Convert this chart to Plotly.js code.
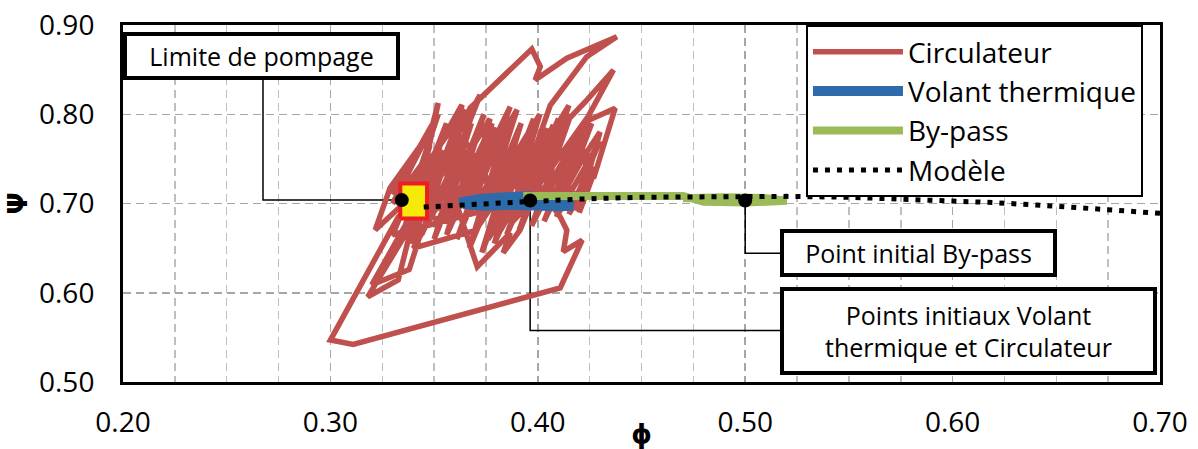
<!DOCTYPE html>
<html><head><meta charset="utf-8">
<script src="https://cdn.plot.ly/plotly-3.0.1.min.js"></script>
<style>html,body{margin:0;padding:0;background:#fff;} #chart{width:1198px;height:449px;}</style>
</head><body><div id="chart"></div>
<script>
// ---- data ----
const circX = [0.3963,0.4075,0.3880,0.4060,0.4236,0.4381,0.4140,0.3987,0.4012,0.3971,0.3674,0.3500,0.3722,0.3600,0.3634,0.3450,0.3520,0.3480,0.3490,0.3300,0.3447,0.3288,0.3216,0.3330,0.3560,0.3780,0.3650,0.3867,0.3740,0.3820,0.3960,0.3700,0.3400,0.3620,0.3440,0.3380,0.3200,0.3420,0.3327,0.3180,0.3400,0.3600,0.3708,0.3867,0.3833,0.3915,0.4000,0.4108,0.4140,0.4123,0.4214,0.4108,0.3110,0.3000,0.3327,0.3500,0.3650,0.3800,0.3980,0.3900,0.4130,0.4229,0.4365,0.4229,0.4373,0.4269,0.4200,0.4050,0.4205,0.4180,0.3950,
  0.3300,0.3480,0.3340,0.3560,0.3390,0.3620,0.3440,0.3680,0.3500,0.3740,0.3560,0.3800,0.3610,0.3860,0.3670,0.3920,0.3730,0.3980,0.3790,0.4040,0.3850,0.4100,0.3910,0.4160,0.3970,0.4210,0.4030,0.4260,0.4090,0.4300,0.4150,0.4280,0.4200,
  0.4240,0.4120,0.4180,0.4000,0.4140,0.3940,0.4080,0.3880,0.4020,0.3820,0.3960,0.3760,0.3900,0.3700,0.3840,0.3640,0.3780,0.3580,0.3720,0.3520,0.3660,0.3460,0.3600,0.3400,0.3540,0.3350,0.3460,0.3300,
  0.3520,0.3420,0.3650,0.3540,0.3770,0.3680,0.3900,0.3770,0.4010,0.3900,0.4150,0.4020,0.4250,0.4130,0.4300,0.4210];
const circY = [0.7033,0.7880,0.6900,0.8100,0.8645,0.8869,0.8627,0.8384,0.8533,0.8731,0.8070,0.7300,0.8216,0.7500,0.8104,0.7350,0.8127,0.7770,0.7880,0.7100,0.7690,0.7175,0.6704,0.6950,0.6800,0.7900,0.7050,0.8085,0.7300,0.6900,0.7600,0.6700,0.6500,0.7400,0.6700,0.6260,0.6090,0.7000,0.6144,0.5954,0.6800,0.7050,0.6290,0.6670,0.6447,0.6704,0.7200,0.6850,0.6700,0.6460,0.6590,0.6055,0.5420,0.5470,0.6850,0.7200,0.7700,0.7100,0.7900,0.7200,0.7900,0.8140,0.8496,0.7917,0.8067,0.7283,0.7600,0.7000,0.7130,0.6950,0.7050,
  0.6650,0.7650,0.6600,0.7900,0.6550,0.7950,0.6650,0.7900,0.6600,0.8000,0.6650,0.7850,0.6600,0.7950,0.6500,0.7900,0.6450,0.7950,0.6550,0.7850,0.6650,0.7950,0.6700,0.8000,0.6750,0.7850,0.6800,0.7900,0.6850,0.7700,0.6880,0.7400,0.6900,
  0.7600,0.7100,0.7700,0.7000,0.7500,0.6900,0.7300,0.6800,0.7500,0.6700,0.7300,0.6600,0.7400,0.6700,0.7500,0.6800,0.7600,0.6900,0.7500,0.6800,0.7600,0.6900,0.7700,0.6900,0.7600,0.6950,0.7500,0.7000,
  0.8000,0.7300,0.8050,0.7100,0.7950,0.7200,0.8050,0.7100,0.8000,0.7150,0.8100,0.7250,0.8000,0.7200,0.7800,0.7050];
const volantX = [0.3620,0.3720,0.3850,0.3950,0.4040,0.4120,0.4170,0.4100,0.3980,0.3860,0.3740,0.3640];
const volantY = [0.7010,0.7050,0.7070,0.7080,0.7060,0.7010,0.6975,0.6970,0.6990,0.6985,0.6975,0.6995];
const bypassX = [0.3930,0.4200,0.4500,0.4700,0.4800,0.5000,0.5200,0.5100,0.4900,0.4750,0.4700];
const bypassY = [0.7085,0.7090,0.7090,0.7085,0.7020,0.7010,0.7030,0.7060,0.7070,0.7070,0.7060];
const modelX = [0.345,0.360,0.380,0.400,0.420,0.450,0.480,0.500,0.520,0.550,0.580,0.600,0.620,0.650,0.680,0.700];
const modelY = [0.696,0.698,0.701,0.703,0.705,0.707,0.708,0.708,0.708,0.707,0.705,0.703,0.701,0.697,0.692,0.689];
const keyPointsX = [0.3344,0.3963,0.5000];
const keyPointsY = [0.7038,0.7033,0.7033];
const limitBoxX = [0.3337,0.3466];
const limitBoxY = [0.6832,0.7225];
const seriesNames = ['Circulateur','Volant thermique','By-pass','Modèle'];
const xTickVals = [0.20,0.30,0.40,0.50,0.60,0.70];
const xTickText = ['0.20','0.30','0.40','0.50','0.60','0.70'];
const yTickVals = [0.50,0.60,0.70,0.80,0.90];
const yTickText = ['0.50','0.60','0.70','0.80','0.90'];
const axisTitles = ['ϕ','Ψ'];
const noteTexts = ['Limite de pompage','Point initial By-pass','Points initiaux Volant<br>thermique et Circulateur'];
// leader lines (elbows) from key points to note boxes
const leader1X = [0.3344,0.2675,0.2675], leader1Y = [0.7038,0.7038,0.8400];
const leader2X = [0.5000,0.5000,0.5200], leader2Y = [0.7033,0.6443,0.6443];
const leader3X = [0.3963,0.3963,0.5200], leader3Y = [0.7033,0.5577,0.5577];
const notePosX = [0.2668,0.5837,0.6079];
const notePosY = [0.8653,0.6447,0.5573];

// ---- styles ----
const FONT = 'Open Sans, Lato, sans-serif';
const gridCol = '#A6A6A6';
const traces = [];
const lead = (x,y)=>({x:x,y:y,mode:'lines',line:{color:'#000',width:1.5},showlegend:false,hoverinfo:'skip'});
traces.push(lead(leader1X,leader1Y), lead(leader2X,leader2Y), lead(leader3X,leader3Y));
traces.push({x:circX,y:circY,mode:'lines',name:seriesNames[0],line:{color:'#C0504D',width:5.5}});
traces.push({x:volantX,y:volantY,mode:'lines',name:seriesNames[1],line:{color:'#2E6BAA',width:10}});
traces.push({x:bypassX,y:bypassY,mode:'lines',name:seriesNames[2],line:{color:'#9BBB59',width:8}});
traces.push({x:[limitBoxX[0],limitBoxX[1],limitBoxX[1],limitBoxX[0],limitBoxX[0]],
             y:[limitBoxY[0],limitBoxY[0],limitBoxY[1],limitBoxY[1],limitBoxY[0]],
             mode:'lines',fill:'toself',fillcolor:'#F5EA0A',line:{color:'#EE1C24',width:4},showlegend:false,hoverinfo:'skip'});
traces.push({x:modelX,y:modelY,mode:'lines',name:seriesNames[3],line:{color:'#000',width:5,dash:'5px,7px'}});
traces.push({x:keyPointsX,y:keyPointsY,mode:'markers',marker:{color:'#000',size:14},showlegend:false,hoverinfo:'skip'});

const note = (i)=>({x:notePosX[i],y:notePosY[i],xref:'x',yref:'y',text:noteTexts[i],showarrow:false,
  font:{family:FONT,size:25,color:'#000'},bordercolor:'#000',borderwidth:4,borderpad:1,bgcolor:'#fff',
  width: i===2?367:267, height: i===2?78:38, align:'center', valign:'middle'});

const layout = {
  width:1198,height:449,margin:{l:123,r:38,t:25,b:67},
  paper_bgcolor:'#fff',plot_bgcolor:'#fff',
  font:{family:FONT,color:'#000'},
  xaxis:{range:[0.2,0.7],tickmode:'array',tickvals:xTickVals,ticktext:xTickText,
    showgrid:true,gridcolor:gridCol,gridwidth:1.5,griddash:'8px,5px',
    minor:{tick0:0.2,dtick:0.025,showgrid:true,gridcolor:'#BFBFBF',gridwidth:1.5,griddash:'8px,5px'},
    showline:true,linecolor:'#000',linewidth:3,mirror:true,zeroline:false,ticks:'',
    tickfont:{family:FONT,size:28,color:'#000'},ticklabelstandoff:13,
    title:{text:axisTitles[0],font:{family:'DejaVu Sans',size:26,weight:'bold',color:'#000'},standoff:0}},
  yaxis:{range:[0.5,0.9],tickmode:'array',tickvals:yTickVals,ticktext:yTickText,
    showgrid:true,gridcolor:gridCol,gridwidth:1.5,griddash:'8px,5px',
    showline:true,linecolor:'#000',linewidth:3,mirror:true,zeroline:false,ticks:'',
    tickfont:{family:FONT,size:28,color:'#000'},ticklabelstandoff:20,
    title:{text:axisTitles[1],font:{family:'DejaVu Sans',size:26,weight:'bold',color:'#000'},standoff:4}},
  legend:{x:0.6586,y:1,xanchor:'left',yanchor:'top',bgcolor:'#fff',bordercolor:'#000',borderwidth:2,
    font:{family:FONT,size:28,color:'#000'},itemwidth:90,traceorder:'normal'},
  annotations:[note(0),note(1),note(2)],
  showlegend:true
};
Plotly.newPlot('chart',traces,layout,{displayModeBar:false,staticPlot:true});
</script></body></html>
